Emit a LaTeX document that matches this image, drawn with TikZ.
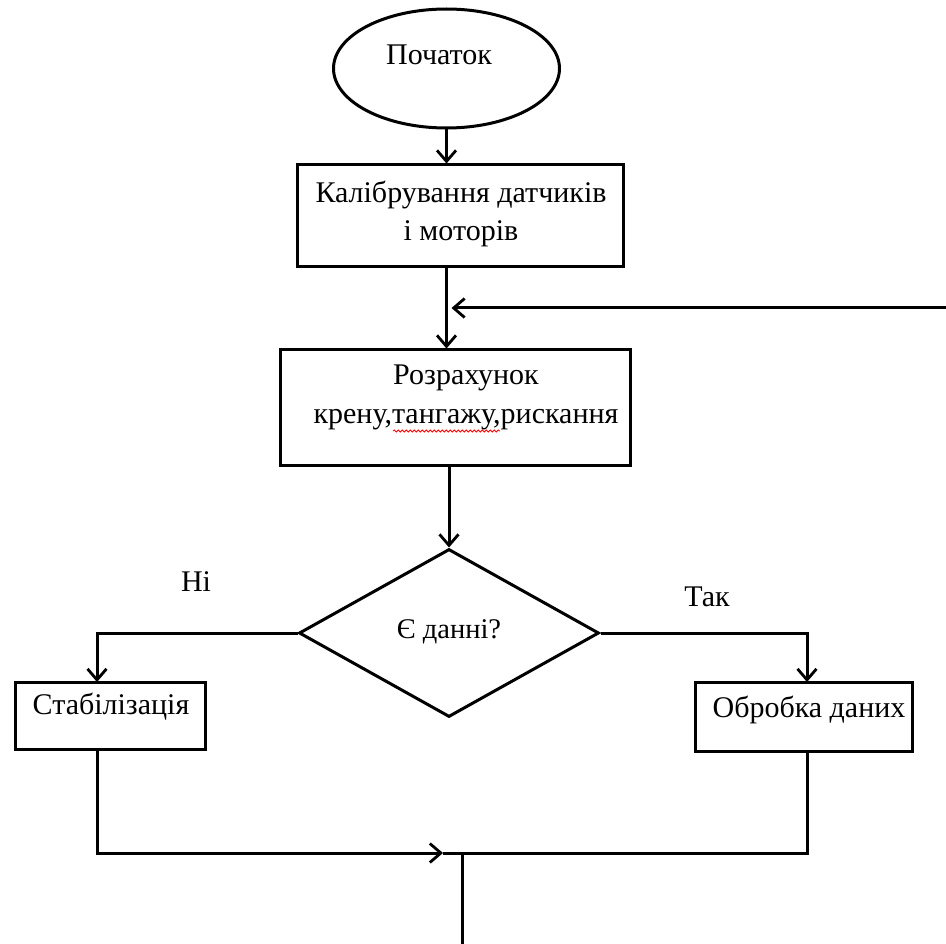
\documentclass[tikz,border=0pt]{standalone}
\usepackage{fontspec}
\setmainfont{Liberation Serif}
\usetikzlibrary{shapes.geometric,arrows.meta,decorations.pathmorphing}
\begin{document}
\begin{tikzpicture}[x=1pt,y=-1pt,
  txt/.style={font=\fontsize{30}{38.5}\selectfont,inner sep=0pt,align=center},
  box/.style={draw,line width=3pt,rectangle,inner sep=0pt},
  conn/.style={line width=3pt},
  arr/.style={conn,-{Straight Barb[length=11pt,width=19pt,line width=2.8pt]}},
  squig/.style={red,line width=0.8pt,decorate,decoration={snake,amplitude=1.1pt,segment length=4pt}},
]
\useasboundingbox (0,0) rectangle (946,944);
% shapes
\node[box,ellipse,minimum width=226pt,minimum height=119pt] (start) at (446.5,68.5) {};
\node[box,minimum width=326pt,minimum height=102pt] (calib) at (460,216) {};
\node[box,minimum width=350pt,minimum height=115pt] (calc) at (455,407.5) {};
\node[box,diamond,minimum width=300pt,minimum height=168pt] (dia) at (449,633) {};
\node[box,minimum width=190pt,minimum height=67pt] (stab) at (110,715.5) {};
\node[box,minimum width=217pt,minimum height=69pt] (obr) at (803.5,716.5) {};
% texts
\node[txt] (starttxt) at (439,55) {Початок};
\node[txt] (calibtxt) at (461,214) {Калібрування датчиків\\і моторів};
\node[txt] (calctxt) at (466,397.5) {Розрахунок\\крену,тангажу,рискання};
\node[txt,font=\fontsize{28.5}{34}\selectfont] (diatxt) at (449,632) {Є данні?};
\node[txt] (stabtxt) at (111,707) {Стабілізація};
\node[txt] (obrtxt) at (809,710) {Обробка даних};
\node[txt] (no) at (196,582) {Ні};
\node[txt] (yes) at (707,597) {Так};
\draw[squig] (393,431) -- (500,431);
% connector points
\coordinate (loopin) at (946,308);
\coordinate (stabin) at (97,682);
\coordinate (obrin) at (807,682);
\coordinate (mergeL) at (443,853);
\coordinate (mergeV) at (462,853);
\coordinate (out) at (462,944);
% connectors
\draw[arr] (start.south) -- (start.south |- calib.north);
\draw[arr] (calib.south -| start.south) -- (calc.north -| start.south);
\draw[arr] (loopin) -- ([xshift=5pt]loopin -| start.south);
\draw[arr] (calc.south -| dia.north) -- (dia.north);
\draw[arr] (dia.west) -| (stabin);
\draw[arr] (dia.east) -| (obrin);
\draw[arr] (stab.south -| stabin) |- (mergeL);
\draw[conn] (obr.south -| obrin) |- (mergeL);
\draw[conn] (mergeV) -- (out);
\end{tikzpicture}
\end{document}
